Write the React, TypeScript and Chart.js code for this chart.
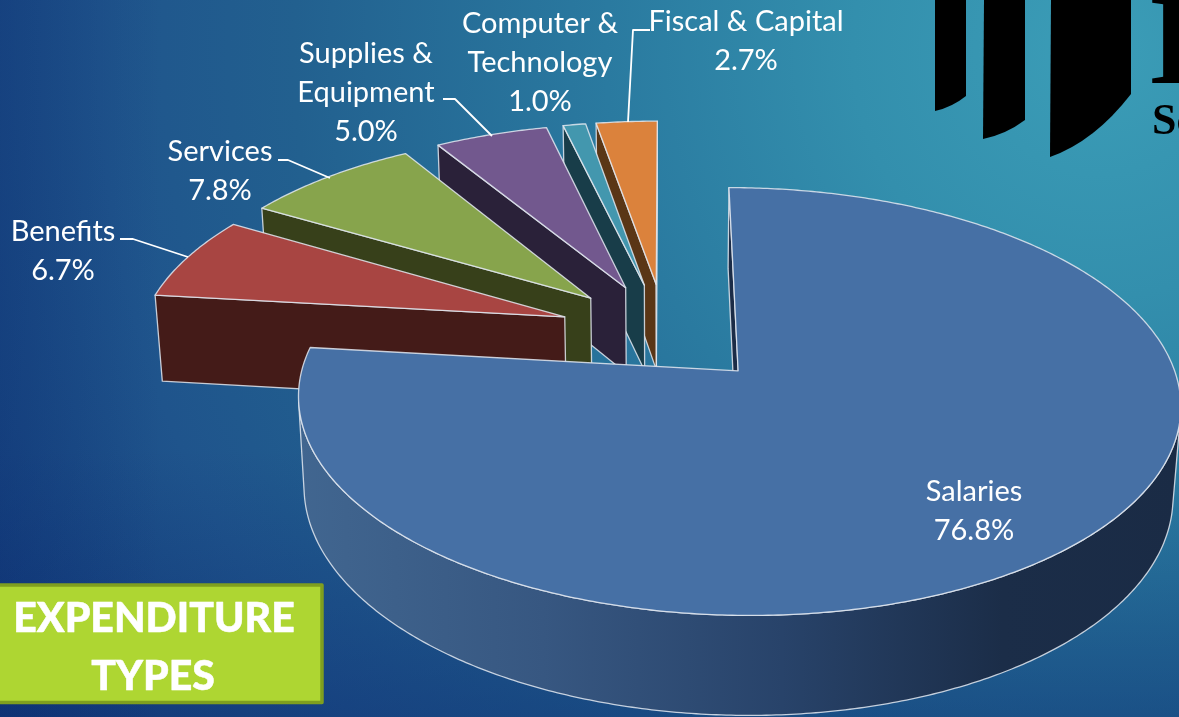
import React, { useEffect, useRef } from "react";
import { Chart, registerables } from "chart.js";

Chart.register(...registerables);

const categories = ["Salaries", "Benefits", "Services", "Supplies & Equipment", "Computer & Technology", "Fiscal & Capital"];
const shares = [76.8, 6.7, 7.8, 5.0, 1.0, 2.7];
const topColors = ["#4670a5", "#a84542", "#87a44c", "#72588e", "#4397ae", "#db823c"];
const wallColors = ["#1b2c47", "#441b18", "#37401a", "#2a2139", "#183d49", "#5a3616"];
const labelLines = [["Salaries"], ["Benefits"], ["Services"], ["Supplies &", "Equipment"], ["Computer &", "Technology"], ["Fiscal & Capital"]];

const labelAnchors = [[974, 501], [63, 241], [220, 161], [366, 63], [540, 33], [746, 31]];
const leaders = [
  [],
  [[120, 239], [133, 239], [188, 257]],
  [[278, 160], [288, 160], [330, 178]],
  [[443, 99], [455, 99], [492, 136]],
  [],
  [[650, 30], [633, 30], [628, 122]],
];

// Perspective camera fitted to the picture
const CX = 665, CY = 332.5, A = 425, B = 198.6, P = 0.14, Q = 0.0147, H = 89;
const project = (u: number, v: number, z: number): [number, number] => {
  const w = 1 - P * v + Q * z;
  return [CX + (A * u) / w, CY + (B * v + H * z) / w];
};

const EDGE = "rgba(226,232,240,0.85)";
const LABEL_FONT = "29px Lato";

function poly(ctx: CanvasRenderingContext2D, pts: [number, number][], fill: any, stroke = true) {
  ctx.beginPath();
  pts.forEach((p, i) => (i ? ctx.lineTo(p[0], p[1]) : ctx.moveTo(p[0], p[1])));
  ctx.closePath();
  ctx.fillStyle = fill;
  ctx.fill();
  if (stroke) {
    ctx.strokeStyle = EDGE;
    ctx.lineWidth = 1.3;
    ctx.lineJoin = "round";
    ctx.stroke();
  }
}
function area(p: [number, number][]) {
  let s = 0;
  for (let i = 0; i < p.length; i++) {
    const q = p[(i + 1) % p.length];
    s += p[i][0] * q[1] - q[0] * p[i][1];
  }
  return s / 2;
}

const backgroundPlugin = {
  id: "backdrop",
  beforeDraw(chart: any) {
    const { ctx, width, height } = chart;
    const g = ctx.createRadialGradient(1100, 50, 0, 1100, 50, 1300);
    g.addColorStop(0, "#3b9db7");
    g.addColorStop(0.19, "#338fad");
    g.addColorStop(0.38, "#2a7aa0");
    g.addColorStop(0.62, "#22608f");
    g.addColorStop(0.77, "#1f548c");
    g.addColorStop(1, "#143f7d");
    ctx.fillStyle = g;
    ctx.fillRect(0, 0, width, height);
    const d = ctx.createLinearGradient(0, 450, 0, 717);
    d.addColorStop(0, "rgba(10,40,110,0)");
    d.addColorStop(1, "rgba(10,40,110,0.4)");
    ctx.fillStyle = d;
    ctx.fillRect(0, 450, width, height - 450);
    const l = ctx.createLinearGradient(0, 0, 160, 0);
    l.addColorStop(0, "rgba(10,40,110,0.3)");
    l.addColorStop(1, "rgba(10,40,110,0)");
    ctx.fillStyle = l;
    ctx.fillRect(0, 0, 160, height);
  },
};

const pie3dPlugin = {
  id: "pie3d",
  beforeDatasetDraw(chart: any) {
    const { ctx } = chart;
    const arcs = chart.getDatasetMeta(0).data;
    const order = arcs.map((_: any, i: number) => i).slice(1).reverse().concat([0]);
    for (const i of order) {
      const el = arcs[i];
      const { startAngle, endAngle, outerRadius } = el.getProps(["startAngle", "endAngle", "outerRadius"], false);
      const e = (el.options.offset || 0) / outerRadius;
      const mid = (startAngle + endAngle) / 2;
      const u0 = Math.cos(mid) * e, v0 = Math.sin(mid) * e;
      const at = (a: number, z: number) => project(u0 + Math.cos(a), v0 + Math.sin(a), z);
      const apex = (z: number) => project(u0, v0, z);
      const n = Math.max(4, Math.ceil((endAngle - startAngle) / 0.01));
      const angles: number[] = [];
      for (let k = 0; k <= n; k++) angles.push(startAngle + ((endAngle - startAngle) * k) / n);

      const startWall = [apex(0), at(startAngle, 0), at(startAngle, 1), apex(1)];
      const endWall = [at(endAngle, 0), apex(0), apex(1), at(endAngle, 1)];
      if (area(startWall) < 0) poly(ctx, startWall, wallColors[i]);
      if (area(endWall) < 0) poly(ctx, endWall, wallColors[i]);

      const front = angles.filter((a, k) => {
        if (k === n) return false;
        return area([at(a, 0), at(angles[k + 1], 0), at(angles[k + 1], 1), at(a, 1)]) < 0;
      });
      if (front.length) {
        const last = front[front.length - 1] + (endAngle - startAngle) / n;
        const ring = front.concat([last]);
        let fill: any = wallColors[i];
        if (i === 0) {
          const g = ctx.createLinearGradient(297, 0, 1179, 0);
          g.addColorStop(0, "#416690");
          g.addColorStop(0.28, "#375781");
          g.addColorStop(0.55, "#28436a");
          g.addColorStop(0.8, "#1b2d48");
          g.addColorStop(1, "#1a2b45");
          fill = g;
        }
        poly(ctx, [...ring.map((a) => at(a, 0)), ...ring.slice().reverse().map((a) => at(a, 1))], fill);
      }
      poly(ctx, [apex(0), ...angles.map((a) => at(a, 0))], el.options.backgroundColor);
    }
    return false;
  },
};

const textPlugin = {
  id: "decor",
  afterDraw(chart: any) {
    const { ctx } = chart;
    ctx.save();
    // logo fragment
    const shield = (x0: number, x1: number, yl: number, yr: number, xb: number) => {
      ctx.beginPath();
      ctx.moveTo(x0, 0);
      ctx.lineTo(x1, 0);
      ctx.lineTo(x1, yr);
      ctx.quadraticCurveTo(x1 - (x1 - xb) * 0.45, yl - (yl - yr) * 0.25, xb, yl);
      ctx.closePath();
      ctx.fillStyle = "#000";
      ctx.fill();
    };
    shield(935, 966, 111, 96, 935);
    shield(984, 1025, 139, 120, 983);
    shield(1051, 1131, 157, 94, 1050);
    ctx.fillStyle = "#000";
    ctx.textAlign = "left";
    ctx.textBaseline = "alphabetic";
    ctx.font = "bold 130px 'Liberation Serif'";
    ctx.fillText("E", 1150, 83);
    ctx.font = "bold 44px 'Liberation Serif'";
    ctx.fillText("Sc", 1152, 134);

    // data labels
    ctx.fillStyle = "#fff";
    ctx.textAlign = "center";
    ctx.font = LABEL_FONT;
    categories.forEach((_, i) => {
      const [x, y] = labelAnchors[i];
      const lines = [...labelLines[i], shares[i].toFixed(1) + "%"];
      lines.forEach((t, k) => ctx.fillText(t, x, y + k * 39));
      if (leaders[i].length) {
        ctx.beginPath();
        leaders[i].forEach((p, k) => (k ? ctx.lineTo(p[0], p[1]) : ctx.moveTo(p[0], p[1])));
        ctx.strokeStyle = "#fff";
        ctx.lineWidth = 1.8;
        ctx.stroke();
      }
    });

    // title box
    ctx.fillStyle = "#aed632";
    ctx.strokeStyle = "#7f9f1f";
    ctx.lineWidth = 3.5;
    ctx.lineJoin = "round";
    ctx.fillRect(-4, 585, 326, 117.5);
    ctx.strokeRect(-4, 585, 326, 117.5);
    ctx.fillStyle = "#fff";
    ctx.strokeStyle = "#fff";
    ctx.lineWidth = 0.5;
    ctx.font = "900 41px Lato";
    ctx.fillText("EXPENDITURE", 154, 632);
    ctx.strokeText("EXPENDITURE", 154, 632);
    ctx.fillText("TYPES", 153, 690);
    ctx.strokeText("TYPES", 153, 690);
    ctx.restore();
  },
};

export default function App() {
  const ref = useRef<HTMLCanvasElement>(null);
  useEffect(() => {
    document.body.style.margin = "0";
    const chart = new Chart(ref.current!, {
      type: "pie",
      data: {
        labels: categories,
        datasets: [{ data: shares, backgroundColor: topColors, offset: 80, borderWidth: 1, borderColor: EDGE }],
      },
      options: {
        animation: false,
        responsive: false,
        layout: { padding: 0 },
        plugins: { legend: { display: false }, tooltip: { enabled: false } },
      },
      plugins: [backgroundPlugin, pie3dPlugin, textPlugin],
    } as any);
    return () => chart.destroy();
  }, []);
  return (
    <div style={{ position: "fixed", left: 0, top: 0, width: 1179, height: 717, overflow: "hidden" }}>
      <canvas ref={ref} width={1179} height={717} style={{ display: "block" }} />
    </div>
  );
}
